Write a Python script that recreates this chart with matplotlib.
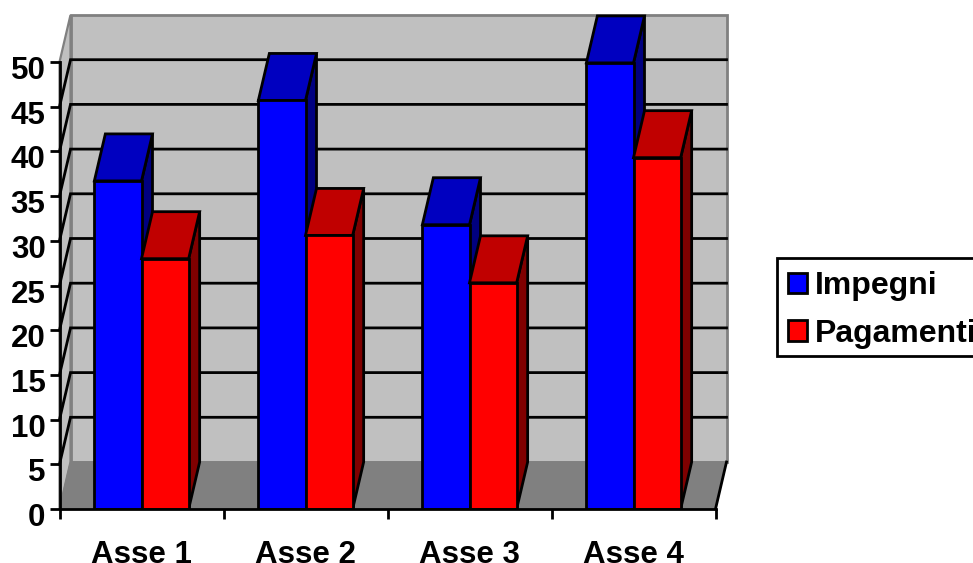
import matplotlib
matplotlib.use("Agg")
import matplotlib.pyplot as plt
from matplotlib.patches import Polygon, Patch, Rectangle
from matplotlib.ticker import NullFormatter
from matplotlib.transforms import ScaledTranslation

plt.rcParams['font.family'] = ['Liberation Sans', 'DejaVu Sans']
plt.rcParams['font.weight'] = 'bold'

categories = ["Asse 1", "Asse 2", "Asse 3", "Asse 4"]
impegni = [36.7, 45.7, 31.8, 49.9]
pagamenti = [28.0, 30.6, 25.3, 39.3]
y_ticks = [0, 5, 10, 15, 20, 25, 30, 35, 40, 45, 50]

W, H = 973, 563
fig = plt.figure(figsize=(W / 100, H / 100), dpi=100)
fig.patch.set_facecolor('white')
L, R, B, T = 59.5, 715.5, 509, 62
ax = fig.add_axes([L / W, 1 - B / H, (R - L) / W, (B - T) / H])
ax.set_xlim(0, 4)
ax.set_ylim(0, 50)
ax.patch.set_alpha(0)

# 3-D depth offset, in data units
DX = 11 / ((R - L) / 4)
DY = 47 / ((B - T) / 50)
BW = 0.2875
LW = 2.0
FS = 22.5
LEG_FS = 23


def poly(pts, fc, ec='black', lw=LW, z=3):
    ax.add_patch(Polygon(pts, closed=True, facecolor=fc, edgecolor=ec, linewidth=lw,
                         joinstyle='miter', clip_on=False, zorder=z))


# walls and floor
poly([(0, 0), (DX, DY), (DX, 50 + DY), (0, 50)], '#C0C0C0', '#808080', 1.6, 1)
poly([(DX, DY), (4 + DX, DY), (4 + DX, 50 + DY), (DX, 50 + DY)], '#C0C0C0', '#808080', 2.0, 1)
poly([(0, 0), (DX, DY), (4 + DX, DY), (4, 0)], '#808080', '#808080', 1.0, 1)
ax.plot([4, 4 + DX], [0, DY], color='black', lw=LW, clip_on=False, zorder=1.5)

# gridlines
for v in y_ticks[1:-1]:
    ax.plot([0, DX, 4 + DX], [v, v + DY, v + DY], color='black', lw=LW,
            clip_on=False, zorder=1.5, solid_joinstyle='miter')

# bars
for s, (vals, c, top, side) in enumerate([
        (impegni, '#0000FF', '#0000C0', '#000080'),
        (pagamenti, '#FF0000', '#C00000', '#800000')]):
    for i, v in enumerate(vals):
        x0 = i + 0.5 - BW + s * BW
        x1 = x0 + BW
        z = 3 + s * 0.1
        poly([(x1, 0), (x1 + DX, DY), (x1 + DX, v + DY), (x1, v)], side, z=z)
        poly([(x0, v), (x0 + DX, v + DY), (x1 + DX, v + DY), (x1, v)], top, z=z)
        ax.bar(x0, v, BW, align='edge', color=c, edgecolor='black', linewidth=LW, zorder=z + 0.01)

# axes
for sp in ['top', 'right']:
    ax.spines[sp].set_visible(False)
for sp in ['left', 'bottom']:
    ax.spines[sp].set_linewidth(LW)
    ax.spines[sp].set_zorder(5)
ax.set_yticks(y_ticks)
ax.set_yticklabels([str(v) for v in y_ticks], fontsize=FS, fontweight='bold')
ax.tick_params(axis='y', length=7, width=LW, pad=3)
shift = ScaledTranslation(0, -4 / 72, fig.dpi_scale_trans)
for t in ax.get_yticklabels():
    t.set_transform(t.get_transform() + shift)
ax.set_xticks([0, 1, 2, 3, 4])
ax.xaxis.set_major_formatter(NullFormatter())
ax.tick_params(axis='x', which='major', length=7, width=LW)
ax.set_xticks([0.5, 1.5, 2.5, 3.5], minor=True)
ax.set_xticklabels(categories, minor=True, fontsize=FS, fontweight='bold')
ax.tick_params(axis='x', which='minor', length=0, pad=22)

# legend frame runs past the right edge of the picture, as in the reference
fig.add_artist(Rectangle((777 / W, 1 - 356 / H), 240 / W, 98 / H, transform=fig.transFigure,
                         facecolor='white', edgecolor='black', linewidth=LW, zorder=2))
handles = [Patch(facecolor='#0000FF', edgecolor='black', linewidth=LW, label='Impegni'),
           Patch(facecolor='#FF0000', edgecolor='black', linewidth=LW, label='Pagamenti')]
leg = fig.legend(handles=handles, loc='upper left',
                 bbox_to_anchor=(777 / W, 1 - 260 / H), bbox_transform=fig.transFigure,
                 fontsize=LEG_FS, frameon=False,
                 handlelength=0.6, handleheight=0.6, handletextpad=0.25,
                 borderpad=0.35, labelspacing=0.55, borderaxespad=0)
leg.set_zorder(3)

fig.savefig('out.png', dpi=100)
